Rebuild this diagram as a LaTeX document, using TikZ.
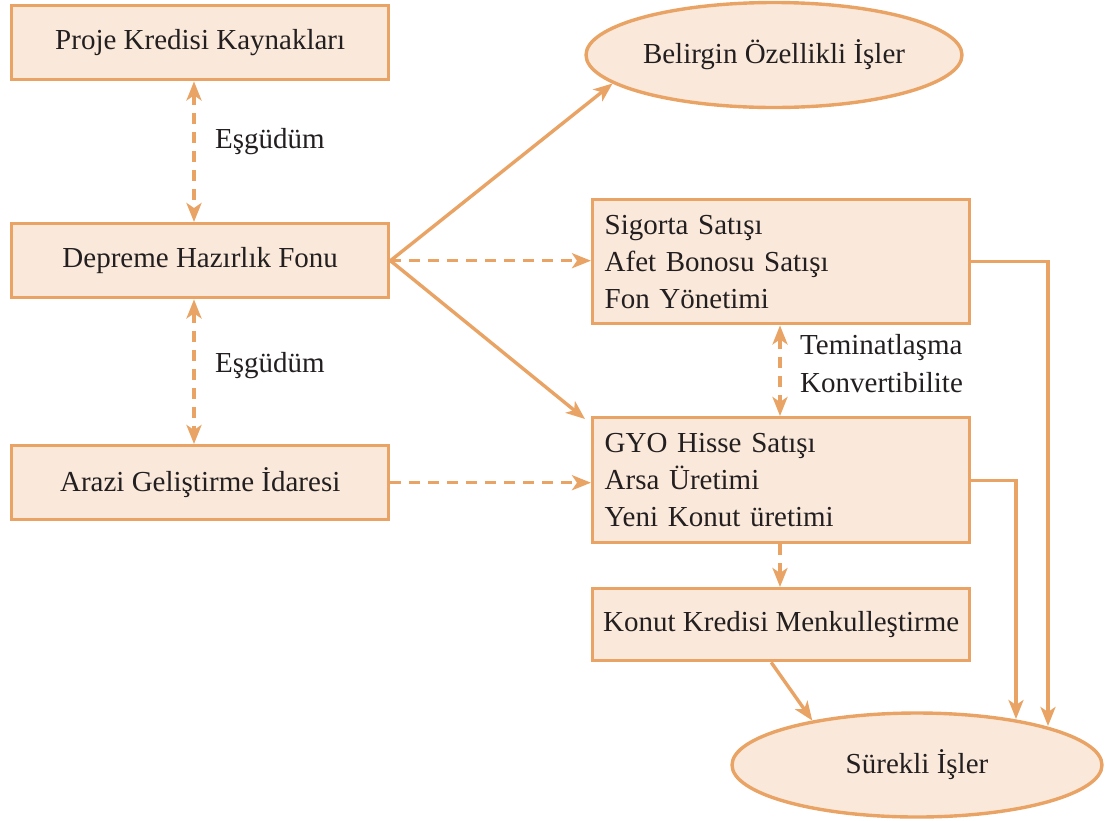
\documentclass[tikz,border=0pt]{standalone}
\usepackage{fontspec}
\setmainfont{Liberation Serif}
\usetikzlibrary{arrows.meta,shapes.geometric}
\definecolor{lc}{HTML}{E9A364}
\definecolor{fc}{HTML}{FAE9DA}
\definecolor{tc}{HTML}{231F20}
\begin{document}
\begin{tikzpicture}[x=1pt,y=-1pt,
  font=\fontsize{29}{37}\selectfont, text=tc,
  tip/.tip={Stealth[length=19pt,width=15pt,inset=5pt]},
  box/.style={draw=lc, fill=fc, line width=3.4pt, minimum width=377pt, inner sep=0pt, anchor=north west},
  oval/.style={ellipse, draw=lc, fill=fc, line width=3.4pt, inner sep=0pt},
  conn/.style={draw=lc, line width=3.4pt, -tip},
  dconn/.style={conn, dash pattern=on 11pt off 8pt},
  ddconn/.style={dconn, tip-tip},
  lbl/.style={anchor=west, inner sep=0pt}]
\useasboundingbox (0,0) rectangle (1107,820);
% left boxes
\node[box, minimum height=74pt] (pro) at (10,4) {Proje Kredisi Kaynakları};
\node[box, minimum height=74pt] (dep) at (10,222) {Depreme Hazırlık Fonu};
\node[box, minimum height=74pt] (ara) at (10,444) {Arazi Geliştirme İdaresi};
% right boxes
\node[box, minimum height=124pt, text width=353pt, align=left] (sig) at (591,198) {Sigorta Satışı\\Afet Bonosu Satışı\\Fon Yönetimi};
\node[box, minimum height=125pt, text width=353pt, align=left] (gyo) at (591,416) {GYO Hisse Satışı\\Arsa Üretimi\\Yeni Konut üretimi};
\node[box, minimum height=72pt] (kon) at (591,587) {Konut Kredisi Menkulleştirme};
% ovals
\node[oval, minimum width=376pt, minimum height=105pt] (bel) at (774,55) {Belirgin Özellikli İşler};
\node[oval, minimum width=370pt, minimum height=104pt] (sur) at (917,765) {Sürekli İşler};
% connectors
\draw[ddconn] (pro.south -| 194,0) -- (dep.north -| 194,0);
\draw[ddconn] (dep.south -| 194,0) -- (ara.north -| 194,0);
\node[lbl] (e1) at (215,142) {Eşgüdüm};
\node[lbl] (e2) at (215,366) {Eşgüdüm};
\draw[conn] (dep.east) -- (bel.190);
\draw[dconn] (dep.east) -- (sig.west |- dep.east);
\draw[conn] (dep.east) -- ([xshift=-6pt,yshift=-3pt]gyo.north west);
\draw[dconn] (ara.east) -- (gyo.west |- ara.east);
\draw[ddconn] (sig.south -| 780,0) -- (gyo.north -| 780,0);
\node[lbl] (t1) at (800,348) {Teminatlaşma};
\node[lbl] (t2) at (800,383) {Konvertibilite};
\draw[dconn] (gyo.south -| 780,0) -- (kon.north -| 780,0);
\draw[conn] ([xshift=-10pt]kon.south) -- (sur.157);
\coordinate (c1) at (1048,726);
\coordinate (c2) at (1016,719);
\draw[conn] (sig.east) -| (c1);
\draw[conn] (gyo.east) -| (c2);
\end{tikzpicture}
\end{document}
